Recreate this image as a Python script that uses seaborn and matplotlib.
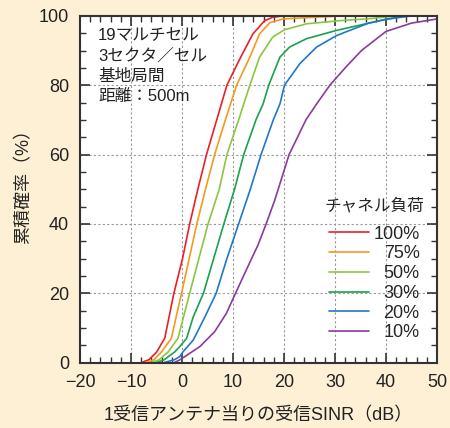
import numpy as np
import matplotlib
matplotlib.use('Agg')
import matplotlib.pyplot as plt
import pandas as pd
import seaborn as sns
from matplotlib.ticker import MultipleLocator

# channel load -> CDF of SINR per receive antenna
loads = ['100%', '75%', '50%', '30%', '20%', '10%']
colors = ['#e8202a', '#f39a1e', '#8cc63f', '#1ba14b', '#1f78c8', '#8b3a9e']

sinr_100 = [-8, -6.5, -5, -3.4, -1.6, 0.1, 1.5, 3.1, 4.8, 6.8, 8.8, 11.3, 13.9, 16.2, 17.8, 20]
cdf_100 = [0, 0.8, 3, 7, 20, 30, 40, 50, 60, 70, 80, 87.5, 94.8, 98.6, 99.6, 100]

sinr_75 = [-7, -5.5, -4, -2.1, -0.1, 1.4, 2.9, 4.6, 6.4, 8.5, 10.7, 13.3, 15.2, 17.2, 19.8, 27.6, 32]
cdf_75 = [0, 0.8, 3.1, 7, 20, 30, 40, 50, 60, 70, 80, 88.1, 94.8, 98.0, 99.1, 99.7, 100]

sinr_50 = [-6, -4.5, -2.7, -0.8, 1.5, 3.3, 5.1, 7.3, 8.8, 11.1, 13.3, 15.2, 17.8, 20.1, 24.4, 30.9, 37, 42]
cdf_50 = [0, 0.8, 3.1, 7, 20, 30, 40, 50, 60, 70, 80, 88.1, 93.9, 96, 97.7, 98.6, 99.2, 100]

sinr_30 = [-5, -3.5, -1.4, -0.45, 0.9, 2.2, 4.2, 6.2, 8.2, 10.3, 12.1, 14.5, 15.9, 17.0, 19.2, 21.1, 24.4, 30.3, 40, 44]
cdf_30 = [0, 0.8, 3.1, 4.6, 7, 13.2, 20, 30, 40, 50, 60, 70, 74.6, 80, 88.1, 91, 93.4, 95.8, 99, 100]

sinr_20 = [-3.5, -1.5, -0.45, 0.2, 2.2, 4.5, 6.7, 8.8, 11.1, 13.4, 15.5, 17.9, 19.2, 20.1, 23.1, 26.4, 30.3, 32.9, 36.6, 40, 45]
cdf_20 = [0, 0.8, 1.7, 3.1, 6.5, 13.2, 20, 30, 40, 50, 60, 70, 74.6, 80, 86.2, 91, 94.3, 95.8, 97.9, 99, 100]

sinr_10 = [-1.5, -0.45, 3.5, 6.4, 8.7, 10.5, 12.6, 14.9, 16.5, 18.2, 21, 24.3, 26.4, 29, 32, 35.2, 40, 45, 50]
cdf_10 = [0, 0.75, 4.6, 8.9, 14.2, 20, 26.7, 33.9, 40, 46.9, 60, 70, 74.6, 80, 85, 90, 95.5, 97.9, 99.1]

sinr_all = [sinr_100, sinr_75, sinr_50, sinr_30, sinr_20, sinr_10]
cdf_all = [cdf_100, cdf_75, cdf_50, cdf_30, cdf_20, cdf_10]

frames = []
for lab, xs, ys in zip(loads, sinr_all, cdf_all):
    frames.append(pd.DataFrame({'sinr': xs, 'cdf': ys, 'load': lab}))
df = pd.concat(frames, ignore_index=True)

bg = '#fdf0d5'
sns.set_style('ticks')
plt.rcParams['font.family'] = ['Liberation Sans', 'Noto Sans CJK JP']
plt.rcParams['axes.unicode_minus'] = True

fig = plt.figure(figsize=(4.5, 4.28), dpi=100, facecolor=bg)
ax = fig.add_axes([0.178, 0.153, 0.793, 0.81])
ax.set_facecolor('white')

sns.lineplot(data=df, x='sinr', y='cdf', hue='load', hue_order=loads,
             palette=colors, estimator=None, sort=False, lw=1.2, ax=ax)

ax.set_xlim(-20, 50)
ax.set_ylim(0, 100)
ax.xaxis.set_major_locator(MultipleLocator(10))
ax.xaxis.set_minor_locator(MultipleLocator(2))
ax.yaxis.set_major_locator(MultipleLocator(20))
ax.yaxis.set_minor_locator(MultipleLocator(5))
ax.tick_params(which='both', direction='in', top=True, right=True,
               color='#333333', labelsize=13, labelcolor='#222222')
ax.tick_params(axis='y', pad=8)
ax.tick_params(axis='x', pad=8)
ax.tick_params(which='major', length=7, width=1.2)
ax.tick_params(which='minor', length=4, width=1.0)
ax.grid(True, which='major', ls=(0, (2, 2)), color='#999999', lw=0.8)
for s in ax.spines.values():
    s.set_color('#333333')
    s.set_linewidth(1.5)

ax.set_xlabel('1受信アンテナ当りの受信SINR（dB）', fontsize=13, color='#222222', labelpad=12)
ax.set_ylabel('累積確率（%）', fontsize=13, color='#222222')
ax.yaxis.set_label_coords(-0.135, 0.52)

ax.text(0.05, 0.965, '19マルチセル\n3セクタ／セル\n基地局間\n距離：500m',
        transform=ax.transAxes, ha='left', va='top', fontsize=12,
        linespacing=1.42, color='#222222')

handles, labels = ax.get_legend_handles_labels()
leg = ax.legend(handles, labels, title='チャネル負荷', frameon=False,
                loc='upper right', bbox_to_anchor=(1.0, 0.484),
                fontsize=13, title_fontsize=12, handlelength=2.2,
                handletextpad=0.25, labelspacing=0.15, borderpad=0.2)
for line in leg.get_lines():
    line.set_linewidth(1.2)

# right-align the legend labels, lift the title a little
fig.canvas.draw()
renderer = fig.canvas.get_renderer()
widths = [t.get_window_extent(renderer).width for t in leg.get_texts()]
wmax = max(widths)
for t, w in zip(leg.get_texts(), widths):
    t.set_position((wmax - w, 0))
leg.get_title().set_position((0, 10))

fig.savefig('out.png', dpi=100, facecolor=bg)
